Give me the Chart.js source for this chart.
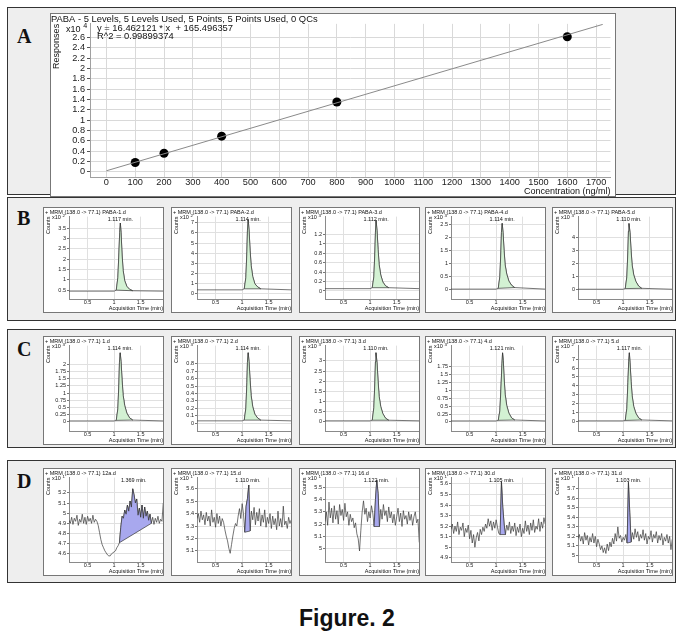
<!DOCTYPE html>
<html>
<head>
<meta charset="utf-8">
<script src="https://cdn.jsdelivr.net/npm/chart.js@4.4.1/dist/chart.umd.min.js"></script>
<style>
body{margin:0;width:683px;height:638px;background:#fff;position:relative;overflow:hidden;font-family:"Liberation Sans",Arial,sans-serif}
.panel{position:absolute;left:7px;width:669px;background:#eeeeee;border:1px solid #333;box-sizing:border-box}
.tag{position:absolute;left:17px;font-family:"Liberation Serif","DejaVu Serif",serif;font-weight:bold;font-size:20px;line-height:20px;color:#111}
.box{position:absolute;background:#fff;border:1px solid #777;box-sizing:border-box}
.box canvas{display:block}
#fig{position:absolute;left:299px;top:607px;font-weight:bold;font-size:23px;line-height:23px;color:#111}
</style>
</head>
<body>
<div class="panel" style="top:7px;height:188px"></div>
<div class="panel" style="top:197px;height:124px"></div>
<div class="panel" style="top:329px;height:119px"></div>
<div class="panel" style="top:460px;height:123px"></div>
<div class="tag" style="top:26px">A</div>
<div class="tag" style="top:208px">B</div>
<div class="tag" style="top:339px">C</div>
<div class="tag" style="top:471px">D</div>
<div class="box" style="left:50px;top:13px;width:566px;height:184px"><canvas id="calib" width="564" height="182"></canvas></div>
<div id="fig">Figure. 2</div>
<script>
// ---- Panel A: calibration curve ----
const calTitle = "PABA - 5 Levels, 5 Levels Used, 5 Points, 5 Points Used, 0 QCs";
const calEquation = ["y = 16.462121 * x  + 165.496357", "R^2 = 0.99899374"];
const concLevels = [100, 200, 400, 800, 1600];
const responses = [0.18, 0.36, 0.69, 1.35, 2.61];   // x10^4
const fitConc = [0, 1723];
const fitResp = [0.02, 2.85];
const concTicks = [0, 100, 200, 300, 400, 500, 600, 700, 800, 900, 1000, 1100, 1200, 1300, 1400, 1500, 1600, 1700];
const respTicks = [0, 0.2, 0.4, 0.6, 0.8, 1, 1.2, 1.4, 1.6, 1.8, 2, 2.2, 2.4, 2.6];

// ---- chromatograms ----
const timeTicks = [0.5, 1, 1.5];

// B row (standards)
const b1T = [0.15, 1.00, 1.04, 1.07, 1.09, 1.105, 1.117, 1.13, 1.15, 1.17, 1.20, 1.24, 1.29, 1.35, 1.92];
const b1V = [0.45, 0.45, 0.5, 1.1, 2.3, 3.3, 3.75, 3.3, 2.2, 1.45, 0.95, 0.68, 0.54, 0.47, 0.45];
const b2T = [0.15, 1.00, 1.04, 1.07, 1.09, 1.10, 1.114, 1.13, 1.15, 1.17, 1.20, 1.24, 1.29, 1.35, 1.92];
const b2V = [0.4, 0.4, 0.5, 1.6, 4.2, 6.2, 7.3, 6.3, 4.3, 2.8, 1.7, 1.0, 0.7, 0.5, 0.4];
const b3T = [0.15, 1.00, 1.04, 1.07, 1.09, 1.10, 1.112, 1.13, 1.15, 1.17, 1.20, 1.24, 1.29, 1.35, 1.92];
const b3V = [0.05, 0.05, 0.07, 0.3, 0.85, 1.25, 1.5, 1.28, 0.88, 0.56, 0.34, 0.19, 0.11, 0.07, 0.05];
const b4T = [0.15, 1.00, 1.04, 1.07, 1.09, 1.10, 1.114, 1.13, 1.15, 1.17, 1.20, 1.24, 1.29, 1.35, 1.92];
const b4V = [0.02, 0.02, 0.05, 0.5, 1.5, 2.2, 2.55, 2.2, 1.5, 0.95, 0.6, 0.33, 0.17, 0.08, 0.02];
const b5T = [0.15, 1.00, 1.04, 1.07, 1.09, 1.10, 1.110, 1.13, 1.15, 1.17, 1.20, 1.24, 1.29, 1.35, 1.92];
const b5V = [0.05, 0.05, 0.1, 1.0, 3.0, 4.5, 5.1, 4.4, 3.0, 1.9, 1.15, 0.65, 0.3, 0.12, 0.05];

// C row (samples)
const c1T = [0.15, 1.00, 1.04, 1.07, 1.09, 1.10, 1.114, 1.13, 1.15, 1.17, 1.20, 1.24, 1.29, 1.35, 1.92];
const c1V = [0.03, 0.03, 0.05, 0.45, 1.35, 2.05, 2.4, 2.1, 1.45, 0.92, 0.56, 0.3, 0.14, 0.06, 0.03];
const c2T = [0.15, 1.00, 1.04, 1.07, 1.09, 1.10, 1.114, 1.13, 1.15, 1.17, 1.20, 1.24, 1.29, 1.35, 1.92];
const c2V = [0.03, 0.03, 0.04, 0.2, 0.55, 0.82, 0.95, 0.83, 0.58, 0.37, 0.22, 0.12, 0.07, 0.04, 0.03];
const c3T = [0.15, 1.00, 1.04, 1.07, 1.09, 1.10, 1.110, 1.13, 1.15, 1.17, 1.20, 1.24, 1.29, 1.35, 1.92];
const c3V = [0.05, 0.05, 0.08, 0.7, 2.0, 2.95, 3.4, 2.9, 2.0, 1.25, 0.75, 0.4, 0.18, 0.08, 0.05];
const c4T = [0.15, 1.00, 1.04, 1.07, 1.09, 1.11, 1.121, 1.135, 1.15, 1.17, 1.20, 1.24, 1.29, 1.35, 1.92];
const c4V = [0.03, 0.03, 0.05, 0.35, 1.05, 1.85, 2.2, 1.95, 1.4, 0.88, 0.52, 0.28, 0.13, 0.06, 0.03];
const c5T = [0.15, 1.00, 1.04, 1.07, 1.09, 1.105, 1.117, 1.13, 1.15, 1.17, 1.20, 1.24, 1.29, 1.35, 1.92];
const c5V = [0.1, 0.1, 0.15, 1.5, 4.4, 6.7, 7.7, 6.6, 4.5, 2.9, 1.7, 0.95, 0.45, 0.2, 0.1];

// D row (blank / low samples), common time grid
const dT = [0.15, 0.175, 0.2, 0.225, 0.25, 0.275, 0.3, 0.325, 0.35, 0.375, 0.4, 0.425, 0.45, 0.475, 0.5, 0.525, 0.55, 0.575,
  0.6, 0.625, 0.65, 0.675, 0.7, 0.725, 0.75, 0.775, 0.8, 0.825, 0.85, 0.875, 0.9, 0.925, 0.95, 0.975, 1.0, 1.025, 1.05, 1.075,
  1.1, 1.125, 1.15, 1.175, 1.2, 1.225, 1.25, 1.275, 1.3, 1.325, 1.35, 1.375, 1.4, 1.425, 1.45, 1.475, 1.5, 1.525, 1.55, 1.575,
  1.6, 1.625, 1.65, 1.675, 1.7, 1.725, 1.75, 1.775, 1.8, 1.825, 1.85, 1.875, 1.9, 1.925];
const d1V = [4.93, 4.90, 4.96, 4.89, 4.95, 4.92, 4.98, 4.88, 4.94, 4.91, 4.99, 4.90, 4.96, 4.89, 4.97, 4.92, 4.95, 4.90,
  4.98, 4.91, 4.94, 4.92, 4.88, 4.81, 4.74, 4.69, 4.66, 4.63, 4.61, 4.59, 4.58, 4.58, 4.60, 4.61, 4.62, 4.63, 4.66, 4.68,
  4.71, 4.86, 4.97, 4.95, 5.03, 4.99, 5.08, 5.02, 5.12, 5.06, 5.24, 5.18, 5.10, 5.14, 4.98, 5.05, 4.96, 5.08, 4.95, 5.06,
  4.97, 5.02, 4.93, 4.99, 4.90, 4.96, 4.89, 4.95, 4.91, 4.97, 4.90, 4.94, 4.92, 5.10];
const d2V = [5.36, 5.40, 5.33, 5.42, 5.35, 5.39, 5.31, 5.41, 5.34, 5.38, 5.30, 5.43, 5.33, 5.37, 5.29, 5.40, 5.32, 5.38,
  5.30, 5.36, 5.33, 5.27, 5.22, 5.18, 5.12, 5.08, 5.15, 5.22, 5.28, 5.32, 5.30, 5.38, 5.44, 5.36, 5.48, 5.40, 5.25, 5.46,
  5.52, 5.63, 5.26, 5.42, 5.35, 5.45, 5.31, 5.41, 5.34, 5.44, 5.30, 5.39, 5.33, 5.43, 5.29, 5.37, 5.32, 5.40, 5.28, 5.38,
  5.31, 5.36, 5.27, 5.42, 5.30, 5.36, 5.29, 5.46, 5.31, 5.34, 5.28, 5.37, 5.32, 5.35];
const d3V = [5.22, 5.30, 5.19, 5.38, 5.25, 5.33, 5.21, 5.35, 5.24, 5.31, 5.20, 5.36, 5.27, 5.32, 5.23, 5.37, 5.26, 5.30,
  5.19, 5.28, 5.22, 5.25, 5.17, 5.21, 5.12, 5.08, 4.98, 5.15, 5.30, 5.39, 5.28, 5.33, 5.22, 5.30, 5.25, 5.35, 5.29, 5.18,
  5.40, 5.56, 5.45, 5.18, 5.32, 5.24, 5.36, 5.27, 5.31, 5.22, 5.34, 5.25, 5.30, 5.21, 5.28, 5.19, 5.26, 5.33, 5.22, 5.29,
  5.18, 5.31, 5.24, 5.27, 5.20, 5.30, 5.23, 5.28, 5.19, 5.26, 5.30, 5.21, 5.24, 5.05];
const d4V = [5.17, 5.22, 5.13, 5.20, 5.15, 5.24, 5.12, 5.19, 5.16, 5.23, 5.10, 5.18, 5.14, 5.21, 5.08, 5.16, 5.04, 5.12,
  5.00, 5.09, 5.14, 5.06, 5.17, 5.12, 5.19, 5.15, 5.22, 5.18, 5.27, 5.20, 5.25, 5.16, 5.24, 5.18, 5.26, 5.19, 5.13, 5.12,
  5.62, 5.38, 5.22, 5.12, 5.21, 5.16, 5.24, 5.13, 5.20, 5.15, 5.23, 5.11, 5.19, 5.14, 5.22, 5.10, 5.18, 5.13, 5.25, 5.15,
  5.21, 5.12, 5.23, 5.16, 5.26, 5.14, 5.20, 5.17, 5.27, 5.15, 5.24, 5.18, 5.28, 5.22];
const d5V = [5.18, 5.22, 5.15, 5.20, 5.12, 5.24, 5.16, 5.21, 5.11, 5.19, 5.14, 5.23, 5.13, 5.20, 5.09, 5.17, 5.12, 5.06,
  5.10, 5.03, 5.08, 5.02, 5.12, 5.05, 5.14, 5.09, 5.18, 5.12, 5.23, 5.15, 5.30, 5.18, 5.21, 5.14, 5.19, 5.16, 5.22, 5.13,
  5.77, 5.45, 5.14, 5.24, 5.17, 5.28, 5.19, 5.25, 5.15, 5.22, 5.18, 5.27, 5.16, 5.23, 5.12, 5.20, 5.17, 5.26, 5.14, 5.22,
  5.18, 5.25, 5.13, 5.21, 5.16, 5.23, 5.11, 5.19, 5.15, 5.22, 5.13, 5.20, 5.06, 5.17];

const green = "#d3f1d3", blue = "#a8a8ee";
// table for the library: [title, exponent, peak label, peak time, yMin, yMax, yTicks, times, counts, peak from, peak to, fill]
const rows = [
  {top: 207, h: 106, charts: [
    ["+ MRM (138.0 -> 77.1) PABA-1.d", "2", "1.117 min.", 1.117, 0.07, 4.06, [0.5, 1, 1.5, 2, 2.5, 3, 3.5], b1T, b1V, 2, 13, green],
    ["+ MRM (138.0 -> 77.1) PABA-2.d", "2", "1.114 min.", 1.114, -0.5, 7.6, [0, 1, 2, 3, 4, 5, 6, 7], b2T, b2V, 2, 13, green],
    ["+ MRM (138.0 -> 77.1) PABA-3.d", "3", "1.112 min.", 1.112, -0.17, 1.58, [0, 0.2, 0.4, 0.6, 0.8, 1, 1.2], b3T, b3V, 2, 13, green],
    ["+ MRM (138.0 -> 77.1) PABA-4.d", "3", "1.114 min.", 1.114, -0.36, 2.81, [0, 0.5, 1, 1.5, 2, 2.5], b4T, b4V, 2, 13, green],
    ["+ MRM (138.0 -> 77.1) PABA-5.d", "3", "1.110 min.", 1.110, -0.7, 5.63, [0, 1, 2, 3, 4], b5T, b5V, 2, 13, green]]},
  {top: 336, h: 109, charts: [
    ["+ MRM (138.0 -> 77.1) 1.d", "3", "1.114 min.", 1.114, -0.32, 2.65, [0, 0.25, 0.5, 0.75, 1, 1.25, 1.5, 1.75, 2], c1T, c1V, 2, 13, green],
    ["+ MRM (138.0 -> 77.1) 2.d", "3", "1.114 min.", 1.114, -0.107, 1.046, [0, 0.1, 0.2, 0.3, 0.4, 0.5, 0.6, 0.7, 0.8], c2T, c2V, 2, 13, green],
    ["+ MRM (138.0 -> 77.1) 3.d", "3", "1.110 min.", 1.110, -0.45, 3.75, [0, 0.5, 1, 1.5, 2, 2.5, 3], c3T, c3V, 2, 13, green],
    ["+ MRM (138.0 -> 77.1) 4.d", "3", "1.121 min.", 1.121, -0.29, 2.43, [0, 0.25, 0.5, 0.75, 1, 1.25, 1.5, 1.75], c4T, c4V, 2, 13, green],
    ["+ MRM (138.0 -> 77.1) 5.d", "2", "1.117 min.", 1.117, -1.03, 8.5, [0, 1, 2, 3, 4, 5, 6, 7], c5T, c5V, 2, 13, green]]},
  {top: 468, h: 108, charts: [
    ["+ MRM (138.0 -> 77.1) 12a.d", "1", "1.369 min.", 1.369, 4.52, 5.35, [4.6, 4.7, 4.8, 4.9, 5, 5.1, 5.2], dT, d1V, 38, 62, blue],
    ["+ MRM (138.0 -> 77.1) 15.d", "1", "1.110 min.", 1.110, 5.01, 5.69, [5.1, 5.2, 5.3, 5.4, 5.5, 5.6], dT, d2V, 36, 40, blue],
    ["+ MRM (138.0 -> 77.1) 16.d", "1", "1.122 min.", 1.122, 4.89, 5.58, [5, 5.1, 5.2, 5.3, 5.4, 5.5], dT, d3V, 37, 41, blue],
    ["+ MRM (138.0 -> 77.1) 30.d", "1", "1.105 min.", 1.105, 4.86, 5.66, [4.9, 5, 5.1, 5.2, 5.3, 5.4, 5.5, 5.6], dT, d4V, 37, 41, blue],
    ["+ MRM (138.0 -> 77.1) 31.d", "1", "1.103 min.", 1.103, 4.93, 5.82, [5, 5.1, 5.2, 5.3, 5.4, 5.5, 5.6, 5.7], dT, d5V, 37, 40, blue]]}
];
const colLeft = [43, 171, 299, 425, 552];

Chart.defaults.font.family = '"Liberation Sans", Arial, sans-serif';
Chart.defaults.color = "#111";
Chart.defaults.animation = false;

// extra texts: multiplier, equation, peak label
Chart.register({
  id: "annot",
  afterDraw(chart, args, o) {
    const ctx = chart.ctx, a = chart.chartArea;
    const fam = '"Liberation Sans", Arial, sans-serif';
    ctx.save();
    ctx.fillStyle = "#111";
    ctx.textBaseline = "middle";
    if (o.lines) {
      ctx.font = o.efs + "px " + fam;
      ctx.textAlign = "left";
      o.lines.forEach((s, i) => ctx.fillText(s, a.left + 7, a.top + 5 + i * 8));
    }
    if (o.mult) {
      ctx.font = o.fs + "px " + fam;
      ctx.textAlign = "left";
      ctx.fillText("x10", o.mx, o.my);
      const w = ctx.measureText("x10").width;
      ctx.font = (o.fs * 0.8) + "px " + fam;
      ctx.fillText(o.mult, o.mx + w + o.fs * 0.3, o.my - o.fs * 0.4);
    }
    if (o.label) {
      ctx.font = o.fs + "px " + fam;
      ctx.textAlign = "center";
      ctx.fillText(o.label, chart.scales.x.getPixelForValue(o.at), a.top + 3);
    }
    ctx.restore();
  }
});

new Chart(document.getElementById("calib"), {
  type: "scatter",
  data: {
    datasets: [
      {data: fitConc.map((c, i) => ({x: c, y: fitResp[i]})), showLine: true, borderColor: "#8a8a8a", borderWidth: 1, pointRadius: 0},
      {data: concLevels.map((c, i) => ({x: c, y: responses[i]})), backgroundColor: "#000", borderWidth: 0, pointRadius: 4.5}
    ]
  },
  options: {
    responsive: false,
    layout: {padding: {left: 0, right: 1, top: 0, bottom: 0}},
    plugins: {
      legend: {display: false}, tooltip: {enabled: false},
      title: {display: true, text: calTitle, align: "start", color: "#111", font: {size: 9.4, weight: "normal", lineHeight: 1.05}, padding: {top: 0, bottom: 0}},
      annot: {lines: calEquation, efs: 9.4, fs: 9, mult: "4", mx: 15, my: 16}
    },
    scales: {
      x: {
        type: "linear", min: -57, max: 1750,
        afterBuildTicks: s => { s.ticks = concTicks.map(v => ({value: v})); },
        afterFit: s => { s.height = 19; },
        ticks: {font: {size: 9.2, lineHeight: 1}, color: "#222", padding: 1, maxRotation: 0, autoSkip: false, callback: v => String(v)},
        grid: {color: "#d9d9d9", drawTicks: false},
        border: {color: "#a0a0a0"},
        title: {display: true, text: "Concentration (ng/ml)", align: "end", font: {size: 9, lineHeight: 1}, padding: 0}
      },
      y: {
        min: -0.1, max: 2.86,
        afterBuildTicks: s => { s.ticks = respTicks.map(v => ({value: v})); },
        afterFit: s => { s.width = 39; },
        ticks: {font: {size: 9.2}, color: "#222", padding: 2, autoSkip: false, callback: v => String(v)},
        grid: {color: "#d9d9d9", tickLength: 3, tickColor: "#555"},
        border: {color: "#a0a0a0"},
        title: {display: true, text: "Responses", align: "end", font: {size: 9}, padding: 0}
      }
    }
  }
});

function mini(box, c) {
  const [title, mult, label, at, ymin, ymax, yt, t, v, p0, p1, fillColor] = c;
  const pts = t.map((x, i) => ({x: x, y: v[i]}));
  const peak = pts.slice(p0, p1 + 1);
  peak.push(peak[0]);
  const cv = document.createElement("canvas");
  cv.width = box.w - 2; cv.height = box.h - 2;
  box.el.appendChild(cv);
  new Chart(cv, {
    type: "line",
    data: {
      datasets: [
        {data: peak, fill: "shape", backgroundColor: fillColor, borderColor: "#333", borderWidth: 0.7, pointRadius: 0},
        {data: pts, fill: false, borderColor: "#3a3a3a", borderWidth: 0.7, pointRadius: 0}
      ]
    },
    options: {
      responsive: false,
      layout: {padding: {left: 1, right: 0, top: 0, bottom: 0}},
      plugins: {
        legend: {display: false}, tooltip: {enabled: false},
        title: {display: true, text: title, align: "start", color: "#111", font: {size: 5.5, weight: "normal", lineHeight: 1.2}, padding: {top: 1, bottom: 1}},
        annot: {fs: 5.5, mult: mult, mx: 8, my: 9.5, label: label, at: at}
      },
      scales: {
        x: {
          type: "linear", min: 0.15, max: 1.92,
          afterBuildTicks: s => { s.ticks = timeTicks.map(x => ({value: x})); },
          afterFit: s => { s.height = 13; },
          ticks: {font: {size: 5.5}, color: "#222", padding: 0.5, maxRotation: 0, callback: x => String(x)},
          grid: {color: "#e0e0e0", drawTicks: false},
          border: {color: "#8a8a8a"},
          title: {display: true, text: "Acquisition Time (min)", align: "end", font: {size: 5.5}, padding: 0}
        },
        y: {
          min: ymin, max: ymax,
          afterBuildTicks: s => { s.ticks = yt.map(y => ({value: y})); },
          afterFit: s => { s.width = 24; },
          ticks: {font: {size: 5.5}, color: "#222", padding: 1, autoSkip: false, callback: y => String(y)},
          grid: {color: "#e0e0e0", tickLength: 2, tickColor: "#777"},
          border: {color: "#8a8a8a"},
          title: {display: true, text: "Counts", align: "end", font: {size: 5.5}, padding: 0}
        }
      }
    }
  });
}

rows.forEach(r => {
  r.charts.forEach((c, i) => {
    const el = document.createElement("div");
    el.className = "box";
    el.style.left = colLeft[i] + "px";
    el.style.top = r.top + "px";
    el.style.width = "121px";
    el.style.height = r.h + "px";
    document.body.appendChild(el);
    mini({el: el, w: 121, h: r.h}, c);
  });
});
</script>
</body>
</html>
